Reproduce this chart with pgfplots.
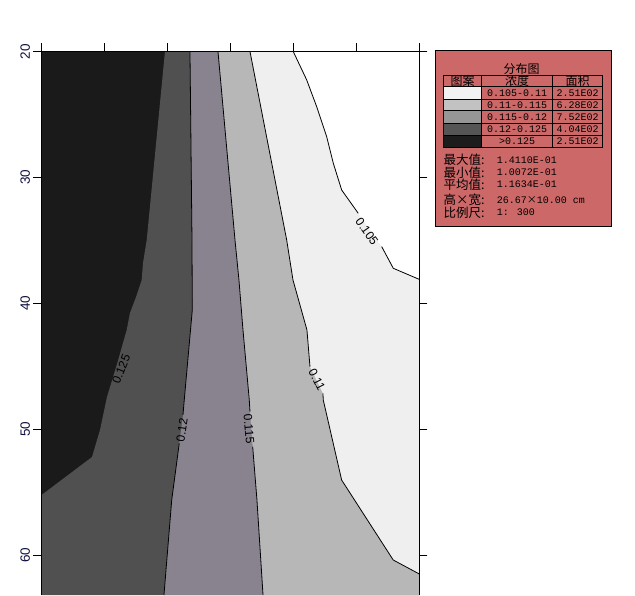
\documentclass[border=0pt]{standalone}
\usepackage{fontspec}
\setmainfont{Liberation Sans}
\newfontfamily\cjk{Noto Sans CJK SC}
\newfontfamily\mono{Liberation Mono}
\usepackage{pgfplots}
\pgfplotsset{compat=1.18}
\definecolor{cblack}{HTML}{1A1A1A}
\definecolor{cdark}{HTML}{505050}
\definecolor{cmid}{HTML}{88838E}
\definecolor{clight}{HTML}{B7B7B7}
\definecolor{cvlight}{HTML}{EFEFEF}
\definecolor{sblack}{HTML}{1C1C1C}
\definecolor{sdark}{HTML}{555555}
\definecolor{smid}{HTML}{969696}
\definecolor{slight}{HTML}{C2C2C2}
\definecolor{svlight}{HTML}{F2F2F2}
\definecolor{legbg}{HTML}{CC6868}
\definecolor{tickcol}{HTML}{101040}
\begin{document}
\begin{tikzpicture}[x=1pt,y=1pt]
\begin{axis}[
  scale only axis, width=377.8pt, height=543.5pt,
  at={(41.5pt,544.5pt)}, anchor=north west,
  xmin=0, xmax=6, ymin=20, ymax=63.17,
  y dir=reverse,
  axis x line*=top, axis y line*=box,
  xtick={0,1,2,3,4,5,6}, xticklabels={},
  ytick={20,30,40,50,60},
  ytick pos=both, yticklabel pos=left,
  tick align=outside, major tick length=8pt,
  tick style={black, line width=0.8pt},
  axis line style={black, line width=0.8pt},
  yticklabel style={rotate=90, anchor=south, font=\fontsize{13.5}{14}\selectfont, text=tickcol},
  /pgf/number format/assume math mode=true,
  axis on top,
]
% filled bands
\addplot[draw=none, fill=cblack] coordinates {(0,20) (6,20) (6,63.17) (0,63.17)} -- cycle;
\addplot[draw=none, fill=cdark] coordinates {
 (1.961,20) (1.671,34.97) (1.612,36.80) (1.591,38.15) (1.501,39.50) (1.405,40.77) (1.353,42.12)
 (1.204,44.74) (1.040,47.44) (0.929,50.06) (0.802,52.21) (0,55.23) (0,63.17) (6,63.17) (6,20)} -- cycle;
\addplot[draw=none, fill=cmid] coordinates {
 (2.358,20) (2.390,34.97) (2.395,40.53) (2.263,47.92) (2.247,48.87) (2.188,51.12) (2.068,55.63) (1.945,63.17) (6,63.17) (6,20)} -- cycle;
\addplot[draw=none, fill=clight] coordinates {
 (2.803,20) (3.073,34.97) (3.136,38.15) (3.200,42.12) (3.300,47.68) (3.311,48.61) (3.354,51.39) (3.422,55.63) (3.518,63.17) (6,63.17) (6,20)} -- cycle;
\addplot[draw=none, fill=cvlight] coordinates {
 (3.311,20) (3.894,34.97) (3.994,38.15) (4.216,42.12) (4.264,45.04) (4.470,47.15) (4.475,47.68) (4.767,54.04) (5.586,60.39) (6,61.5) (6,20)} -- cycle;
\addplot[draw=none, fill=white] coordinates {
 (3.998,20) (4.211,22.25) (4.370,24.38) (4.529,26.76) (4.634,28.87) (4.767,31.0) (5.030,32.85)
 (5.403,35.50) (5.587,37.22) (6,38.1) (6,20)} -- cycle;
% contour lines
\addplot[black, line width=0.8pt] coordinates {(2.358,20) (2.390,34.97) (2.395,40.53) (2.263,47.92) (2.247,48.87)};
\addplot[black, line width=0.8pt] coordinates {(2.188,51.12) (2.068,55.63) (1.945,63.17)};
\addplot[black, line width=0.8pt] coordinates {(2.803,20) (3.073,34.97) (3.136,38.15) (3.200,42.12) (3.300,47.68) (3.311,48.61)};
\addplot[black, line width=0.8pt] coordinates {(3.354,51.39) (3.422,55.63) (3.518,63.17)};
\addplot[black, line width=0.8pt] coordinates {(3.311,20) (3.894,34.97) (3.994,38.15) (4.216,42.12) (4.264,45.04)};
\addplot[black, line width=0.8pt] coordinates {(4.470,47.15) (4.475,47.68) (4.767,54.04) (5.586,60.39) (6,61.5)};
\addplot[black, line width=0.8pt] coordinates {(3.998,20) (4.211,22.25) (4.370,24.38) (4.529,26.76) (4.634,28.87) (4.767,31.0) (5.030,32.85)};
\addplot[black, line width=0.8pt] coordinates {(5.403,35.50) (5.587,37.22) (6,38.1)};
% contour labels
\node[rotate=-55, font=\fontsize{12}{12}\selectfont] at (axis cs:5.169,34.31) {0.105};
\node[rotate=-63, font=\fontsize{12}{12}\selectfont] at (axis cs:4.375,46.09) {0.11};
\node[rotate=-85, font=\fontsize{12}{12}\selectfont] at (axis cs:3.295,49.98) {0.115};
\node[rotate=82, font=\fontsize{12}{12}\selectfont] at (axis cs:2.231,50.06) {0.12};
\node[rotate=68, font=\fontsize{12}{12}\selectfont] at (axis cs:1.264,45.22) {0.125};
\end{axis}
% legend panel
\draw[fill=legbg, line width=1pt] (435,545) rectangle (611,369.3);
\node[font=\cjk\fontsize{12}{12}\selectfont] at (521.7,527) {分布图};
\fill[svlight] (443.3,509.3) rectangle (481.7,497);
\fill[slight] (443.3,497) rectangle (481.7,485.3);
\fill[smid] (443.3,485.3) rectangle (481.7,472.7);
\fill[sdark] (443.3,472.7) rectangle (481.7,461);
\fill[sblack] (443.3,461) rectangle (481.7,448.7);
\draw[line width=0.8pt] (443.3,521) rectangle (602.7,448.7);
\foreach \yy in {509.3,497,485.3,472.7,461} {\draw[line width=0.8pt] (443.3,\yy) -- (602.7,\yy);}
\draw[line width=0.8pt] (481.7,521) -- (481.7,448.7);
\draw[line width=0.8pt] (552.7,521) -- (552.7,448.7);
\node[font=\cjk\fontsize{12}{12}\selectfont] at (462.5,515.15) {图案};
\node[font=\cjk\fontsize{12}{12}\selectfont] at (517.2,515.15) {浓度};
\node[font=\cjk\fontsize{12}{12}\selectfont] at (577.7,515.15) {面积};
\node[font=\mono\fontsize{10}{10}\selectfont] at (517.2,503.15) {0.105-0.11};
\node[font=\mono\fontsize{10}{10}\selectfont] at (517.2,491.15) {0.11-0.115};
\node[font=\mono\fontsize{10}{10}\selectfont] at (517.2,479) {0.115-0.12};
\node[font=\mono\fontsize{10}{10}\selectfont] at (517.2,466.85) {0.12-0.125};
\node[font=\mono\fontsize{10}{10}\selectfont] at (517.2,454.85) {>0.125};
\node[font=\mono\fontsize{10}{10}\selectfont] at (577.7,503.15) {2.51E02};
\node[font=\mono\fontsize{10}{10}\selectfont] at (577.7,491.15) {6.28E02};
\node[font=\mono\fontsize{10}{10}\selectfont] at (577.7,479) {7.52E02};
\node[font=\mono\fontsize{10}{10}\selectfont] at (577.7,466.85) {4.04E02};
\node[font=\mono\fontsize{10}{10}\selectfont] at (577.7,454.85) {2.51E02};
\node[anchor=west, inner sep=0pt, font=\cjk\fontsize{12.5}{12.5}\selectfont] at (443.3,436) {最大值:};
\node[anchor=west, inner sep=0pt, font=\cjk\fontsize{12.5}{12.5}\selectfont] at (443.3,423.7) {最小值:};
\node[anchor=west, inner sep=0pt, font=\cjk\fontsize{12.5}{12.5}\selectfont] at (443.3,411.7) {平均值:};
\node[anchor=west, inner sep=0pt, font=\cjk\fontsize{12.5}{12.5}\selectfont] at (443.3,396) {高×宽:};
\node[anchor=west, inner sep=0pt, font=\cjk\fontsize{12.5}{12.5}\selectfont] at (443.3,383.7) {比例尺:};
\node[anchor=west, inner sep=0pt, font=\mono\fontsize{10}{10}\selectfont] at (496.7,436) {1.4110E-01};
\node[anchor=west, inner sep=0pt, font=\mono\fontsize{10}{10}\selectfont] at (496.7,423.7) {1.0072E-01};
\node[anchor=west, inner sep=0pt, font=\mono\fontsize{10}{10}\selectfont] at (496.7,411.7) {1.1634E-01};
\node[anchor=west, inner sep=0pt, font=\mono\fontsize{10}{10}\selectfont] at (496.7,396) {26.67{\cjk ×}10.00 cm};
\node[anchor=west, inner sep=0pt, font=\mono\fontsize{10}{10}\selectfont] at (496.7,383.7) {1: 300};
\pgfresetboundingbox
\path[use as bounding box] (0,0) rectangle (635,596);
\end{tikzpicture}
\end{document}
